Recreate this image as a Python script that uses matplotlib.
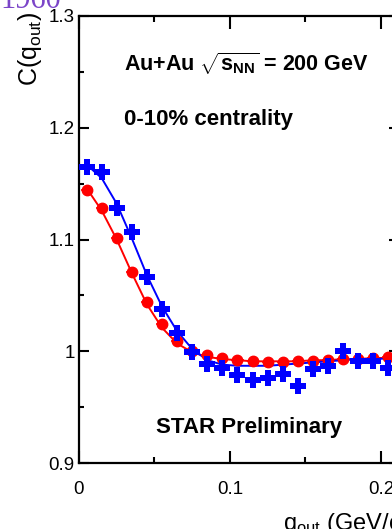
import numpy as np
import matplotlib
matplotlib.use('Agg')
import matplotlib.pyplot as plt
from matplotlib.ticker import MultipleLocator, FuncFormatter

plt.rcParams['font.family'] = ['Liberation Sans', 'DejaVu Sans']
plt.rcParams['mathtext.fontset'] = 'custom'
plt.rcParams['mathtext.rm'] = 'Liberation Sans'
plt.rcParams['mathtext.bf'] = 'Liberation Sans:bold'

# q_out bin centres (GeV/c)
q_out = [0.005, 0.015, 0.025, 0.035, 0.045, 0.055, 0.065, 0.075, 0.085, 0.095, 0.105,
         0.115, 0.125, 0.135, 0.145, 0.155, 0.165, 0.175, 0.185, 0.195, 0.205]

# red circles
c_red = [1.144, 1.128, 1.101, 1.071, 1.044, 1.024, 1.009, 1.000, 0.997, 0.994, 0.992,
         0.991, 0.990, 0.990, 0.991, 0.991, 0.992, 0.993, 0.993, 0.994, 0.995]
# blue crosses
c_blue = [1.165, 1.160, 1.128, 1.107, 1.066, 1.038, 1.016, 0.999, 0.989, 0.985, 0.979,
          0.974, 0.976, 0.980, 0.969, 0.984, 0.987, 1.000, 0.991, 0.991, 0.985]

# fit curves
fit_q = [0.005, 0.015, 0.025, 0.035, 0.045, 0.055, 0.065, 0.075, 0.085, 0.095, 0.105,
         0.115, 0.125, 0.135, 0.145, 0.155, 0.165, 0.175, 0.185, 0.195, 0.212]
fit_red = [1.146, 1.126, 1.100, 1.070, 1.042, 1.021, 1.007, 0.999, 0.995, 0.993, 0.992,
           0.991, 0.991, 0.991, 0.991, 0.992, 0.992, 0.993, 0.993, 0.994, 0.994]
fit_blue = [1.167, 1.155, 1.132, 1.101, 1.068, 1.040, 1.018, 1.002, 0.992, 0.988, 0.987,
            0.987, 0.987, 0.988, 0.989, 0.990, 0.991, 0.992, 0.993, 0.993, 0.994]

W, H = 392, 529
fig = plt.figure(figsize=(W / 100, H / 100), dpi=100)
# axes box: left spine at x=79 px, right spine just outside the picture
ax = fig.add_axes([79 / W, 1 - 463 / H, 320 / W, 447 / H])

ax.plot(fit_q, fit_red, color='red', lw=1.4, zorder=2)
ax.plot(fit_q, fit_blue, color='blue', lw=1.4, zorder=2)
ax.errorbar(q_out, c_red, xerr=0.004, yerr=0.002, fmt='o', color='red', ms=7.5,
            elinewidth=1.2, capsize=0, zorder=3)
ax.errorbar(q_out, c_blue, xerr=0.004, yerr=0.002, fmt='P', color='blue', ms=11,
            mew=0, elinewidth=1.2, capsize=0, zorder=4)

ax.set_xlim(0, 0.212)
ax.set_ylim(0.9, 1.3)
ax.xaxis.set_major_locator(MultipleLocator(0.1))
ax.xaxis.set_minor_locator(MultipleLocator(0.05))
ax.yaxis.set_major_locator(MultipleLocator(0.1))
ax.yaxis.set_minor_locator(MultipleLocator(0.05))
fmt = FuncFormatter(lambda v, p: '%g' % round(v, 3))
ax.xaxis.set_major_formatter(fmt)
ax.yaxis.set_major_formatter(fmt)
ax.tick_params(axis='both', which='both', direction='in', top=True, right=True,
               width=1.5, labelsize=13.5)
ax.tick_params(axis='x', which='major', length=9, pad=13)
ax.tick_params(axis='x', which='minor', length=4.5)
ax.tick_params(axis='y', which='major', length=7, pad=3)
ax.tick_params(axis='y', which='minor', length=3.5)
for s in ax.spines.values():
    s.set_linewidth(1.6)

fig.text(124 / W, 1 - 64 / H, r'Au+Au $\sqrt{\mathbf{s}_{\mathbf{NN}}}$ = 200 GeV',
         fontsize=15.5, fontweight='bold', va='center')
fig.text(124 / W, 1 - 120 / H, '0-10% centrality', fontsize=16, fontweight='bold',
         va='center')
fig.text(249 / W, 1 - 428 / H, 'STAR Preliminary', fontsize=16, fontweight='bold',
         va='center', ha='center')

fig.text(30 / W, 1 - 86 / H, r'$\mathregular{C(q_{out})}$', rotation=90, fontsize=18,
         ha='center', va='bottom')
fig.text(283 / W, 1 - 530 / H, r'$\mathregular{q_{out}}$ (GeV/c)', fontsize=17,
         ha='left', va='baseline')
fig.text(0, 1 - 8 / H, '1960', family='Liberation Serif', fontsize=22, color='#7b45c8',
         ha='left', va='baseline')

fig.savefig('out.png', dpi=100)
